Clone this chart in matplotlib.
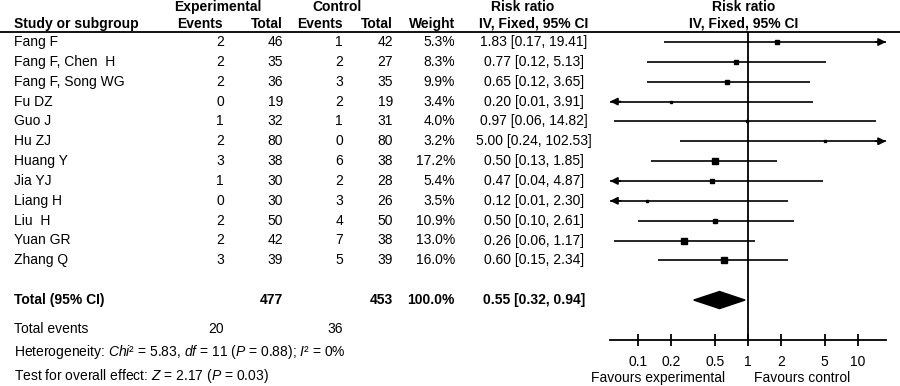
import matplotlib
matplotlib.use('Agg')
import matplotlib.pyplot as plt
from matplotlib.patches import Polygon

plt.rcParams['font.family'] = ['Liberation Sans', 'DejaVu Sans']
plt.rcParams['mathtext.fontset'] = 'custom'
plt.rcParams['mathtext.rm'] = 'Liberation Sans'
plt.rcParams['mathtext.it'] = 'Liberation Sans:italic'

# study data
studies = ['Fang F', 'Fang F, Chen  H', 'Fang F, Song WG', 'Fu DZ', 'Guo J', 'Hu ZJ',
           'Huang Y', 'Jia YJ', 'Liang H', 'Liu  H', 'Yuan GR', 'Zhang Q']
exp_events = [2, 2, 2, 0, 1, 2, 3, 1, 0, 2, 2, 3]
exp_total = [46, 35, 36, 19, 32, 80, 38, 30, 30, 50, 42, 39]
ctl_events = [1, 2, 3, 2, 1, 0, 6, 2, 3, 4, 7, 5]
ctl_total = [42, 27, 35, 19, 31, 80, 38, 28, 26, 50, 38, 39]
weights = [5.3, 8.3, 9.9, 3.4, 4.0, 3.2, 17.2, 5.4, 3.5, 10.9, 13.0, 16.0]
rr = [1.83, 0.77, 0.65, 0.20, 0.97, 5.00, 0.50, 0.47, 0.12, 0.50, 0.26, 0.60]
rr_lo = [0.17, 0.12, 0.12, 0.01, 0.06, 0.24, 0.13, 0.04, 0.01, 0.10, 0.06, 0.15]
rr_hi = [19.41, 5.13, 3.65, 3.91, 14.82, 102.53, 1.85, 4.87, 2.30, 2.61, 1.17, 2.34]

# pooled
total_exp, total_ctl, total_weight = 477, 453, 100.0
events_exp, events_ctl = 20, 36
pooled_rr, pooled_lo, pooled_hi = 0.55, 0.32, 0.94
tick_vals = [0.1, 0.2, 0.5, 1, 2, 5, 10]
tick_labels = ['0.1', '0.2', '0.5', '1', '2', '5', '10']

W, H = 900, 386
fs = 10
row0, step = 42, 19.85
xlo, xhi = 0.055, 18.2


def row_y(i):
    return row0 + i * step


fig = plt.figure(figsize=(W / 100, H / 100), dpi=100)
tab = fig.add_axes([0, 0, 1, 1])
tab.set_xlim(0, W)
tab.set_ylim(H, 0)
tab.axis('off')

# header
bold = dict(fontsize=fs, fontweight='bold', va='center')
tab.text(218, 7, 'Experimental', ha='center', **bold)
tab.text(337, 7, 'Control', ha='center', **bold)
tab.text(523, 7, 'Risk ratio', ha='center', **bold)
tab.text(744, 7, 'Risk ratio', ha='center', **bold)
tab.text(14, 24, 'Study or subgroup', ha='left', **bold)
tab.text(223, 24, 'Events', ha='right', **bold)
tab.text(283, 24, 'Total', ha='right', **bold)
tab.text(343, 24, 'Events', ha='right', **bold)
tab.text(393, 24, 'Total', ha='right', **bold)
tab.text(455, 24, 'Weight', ha='right', **bold)
tab.text(534, 24, 'IV, Fixed, 95% CI', ha='center', **bold)
tab.text(744, 24, 'IV, Fixed, 95% CI', ha='center', **bold)
tab.plot([0, W], [31.5, 31.5], color='black', lw=1.3)

norm = dict(fontsize=fs, va='center')
for i, name in enumerate(studies):
    y = row_y(i)
    tab.text(14, y, name, ha='left', **norm)
    tab.text(224, y, str(exp_events[i]), ha='right', **norm)
    tab.text(283, y, str(exp_total[i]), ha='right', **norm)
    tab.text(343, y, str(ctl_events[i]), ha='right', **norm)
    tab.text(393, y, str(ctl_total[i]), ha='right', **norm)
    tab.text(455, y, f'{weights[i]:.1f}%', ha='right', **norm)
    tab.text(534, y, f'{rr[i]:.2f} [{rr_lo[i]:.2f}, {rr_hi[i]:.2f}]', ha='center', **norm)

yt = row_y(13)
tab.text(14, yt, 'Total (95% CI)', ha='left', **bold)
tab.text(283, yt, str(total_exp), ha='right', **bold)
tab.text(393, yt, str(total_ctl), ha='right', **bold)
tab.text(455, yt, f'{total_weight:.1f}%', ha='right', **bold)
tab.text(534, yt, f'{pooled_rr:.2f} [{pooled_lo:.2f}, {pooled_hi:.2f}]', ha='center', **bold)

tab.text(14, 329, 'Total events', ha='left', **norm)
tab.text(224, 329, str(events_exp), ha='right', **norm)
tab.text(343, 329, str(events_ctl), ha='right', **norm)
tab.text(14, 352, r'Heterogeneity: $\mathit{Chi}$² = 5.83, $\mathit{df}$ = 11 ($\mathit{P}$ = 0.88); $\mathit{I}$² = 0%',
         ha='left', **norm)
tab.text(14, 376, r'Test for overall effect: $\mathit{Z}$ = 2.17 ($\mathit{P}$ = 0.03)', ha='left', **norm)

# forest axes
top_px, bot_px, left_px, right_px = 31.5, 340, 610, 886
ax = fig.add_axes([left_px / W, (H - bot_px) / H, (right_px - left_px) / W, (bot_px - top_px) / H])
ax.set_xscale('log')
ax.set_xlim(xlo, xhi)
ax.set_ylim((bot_px - row0) / step, (top_px - row0) / step)
ax.patch.set_alpha(0)
for s in ['top', 'left', 'right']:
    ax.spines[s].set_visible(False)
ax.spines['bottom'].set_linewidth(1.3)
ax.set_yticks([])
ax.set_xticks(tick_vals)
ax.set_xticklabels(tick_labels, fontsize=fs)
ax.minorticks_off()
ax.tick_params(axis='x', direction='inout', length=9, width=1.3, pad=6)
ax.axvline(1, color='black', lw=1.3)

for i in range(len(studies)):
    lo = max(rr_lo[i], xlo)
    hi = min(rr_hi[i], xhi)
    ax.plot([lo, hi], [i, i], color='black', lw=1.2, solid_capstyle='butt')
    arrow = dict(arrowstyle='-|>', color='black', lw=1.2, mutation_scale=11, shrinkA=0, shrinkB=0)
    if rr_hi[i] > xhi:
        ax.annotate('', xy=(xhi, i), xytext=(xhi * 0.8, i), arrowprops=arrow, annotation_clip=False)
    if rr_lo[i] < xlo:
        ax.annotate('', xy=(xlo, i), xytext=(xlo * 1.25, i), arrowprops=arrow, annotation_clip=False)
    ax.plot(rr[i], i, marker='s', color='black', markersize=1.05 * weights[i] ** 0.5, linestyle='none')

d = Polygon([(pooled_lo, 13), (pooled_rr, 13 - 0.43), (pooled_hi, 13), (pooled_rr, 13 + 0.43)],
            closed=True, color='black')
ax.add_patch(d)

tab.text(725, 378, 'Favours experimental', ha='right', **norm)
tab.text(754, 378, 'Favours control', ha='left', **norm)

fig.savefig('out.png', dpi=100)
